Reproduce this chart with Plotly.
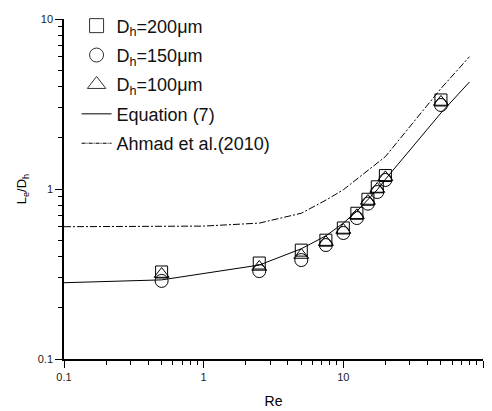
import plotly.graph_objects as go

# ---- data ----
re_pts = [0.5, 2.5, 5, 7.5, 10, 12.5, 15, 17.5, 20, 50]
dh200 = [0.325, 0.367, 0.437, 0.50, 0.59, 0.72, 0.87, 1.03, 1.20, 3.34]
dh150 = [0.288, 0.329, 0.382, 0.468, 0.551, 0.675, 0.82, 0.96, 1.13, 3.12]
dh100 = [0.316, 0.348, 0.409, 0.487, 0.574, 0.70, 0.85, 1.00, 1.17, 3.25]

re_eq7 = [0.1, 0.5, 2.5, 5, 7.5, 10, 12.5, 15, 17.5, 20, 50, 80]
eq7 = [0.281, 0.292, 0.357, 0.445, 0.53, 0.63, 0.74, 0.86, 0.99, 1.14, 2.8, 4.26]

re_ahmad = [0.1, 0.5, 1, 2.5, 5, 7.5, 10, 20, 50, 80]
ahmad = [0.60, 0.60, 0.605, 0.63, 0.72, 0.86, 0.99, 1.55, 3.9, 6.0]

names = ["D<sub>h</sub>=200μm", "D<sub>h</sub>=150μm", "D<sub>h</sub>=100μm"]
line_names = ["Equation (7)", "Ahmad et al.(2010)"]

FONT = "Liberation Sans, Arial, sans-serif"
INK = "#000000"

fig = go.Figure()

# lines
fig.add_trace(go.Scatter(x=re_eq7, y=eq7, mode="lines", line=dict(color=INK, width=1),
                         showlegend=False))
fig.add_trace(go.Scatter(x=re_ahmad, y=ahmad, mode="lines",
                         line=dict(color=INK, width=1, dash="7px,2px,2px,2px"),
                         showlegend=False))

# data markers
series = [(dh200, "square-open", 12), (dh150, "circle-open", 13), (dh100, "triangle-up-open", 13)]
for ys, sym, sz in series:
    fig.add_trace(go.Scatter(x=re_pts, y=ys, mode="markers",
                             marker=dict(symbol=sym, size=sz, color=INK, line=dict(width=1, color=INK)),
                             showlegend=False))

# legend entries
leg_syms = [("square-open", 14), ("circle-open", 14), ("triangle-up-open", 16)]
for i, (nm, (sym, sz)) in enumerate(zip(names, leg_syms)):
    fig.add_trace(go.Scatter(x=[None], y=[None], mode="markers", name=nm,
                             legendgroup=f"g{i}",
                             marker=dict(symbol=sym, size=sz, color="#333", line=dict(width=1, color="#333"))))
fig.add_trace(go.Scatter(x=[None], y=[None], mode="lines", name=line_names[0], legendgroup="g3",
                         line=dict(color=INK, width=1)))
fig.add_trace(go.Scatter(x=[None], y=[None], mode="lines", name=line_names[1], legendgroup="g4",
                         line=dict(color=INK, width=1, dash="4px,1px,1px,1px")))

axis_common = dict(
    type="log", showgrid=False, zeroline=False, showline=True, linecolor=INK, linewidth=1.5,
    ticks="outside", ticklen=7, tickwidth=1.2, tickcolor=INK, dtick=1,
    tickfont=dict(family=FONT, size=11, color="#222"),
    minor=dict(ticks="outside", ticklen=4, tickwidth=1, tickcolor=INK, showgrid=False),
    mirror=False, automargin=False,
)

fig.update_layout(
    width=492, height=411,
    margin=dict(l=64, r=9, t=19, b=52, autoexpand=False),
    paper_bgcolor="white", plot_bgcolor="white",
    font=dict(family=FONT, color=INK),
    xaxis=dict(range=[-1, 2],
               title=dict(text="Re", font=dict(family=FONT, size=14), standoff=14),
               **axis_common),
    yaxis=dict(range=[-1, 1],
               title=dict(text="L<sub>e</sub>/D<sub>h</sub>", font=dict(family=FONT, size=13), standoff=8),
               **axis_common),
    legend=dict(x=0.03, y=1.034, xanchor="left", yanchor="top",
                bgcolor="rgba(0,0,0,0)",
                font=dict(family=FONT, size=18, color="#111"), tracegroupgap=3,
                itemsizing="trace"),
)

fig.write_html("out.html")
